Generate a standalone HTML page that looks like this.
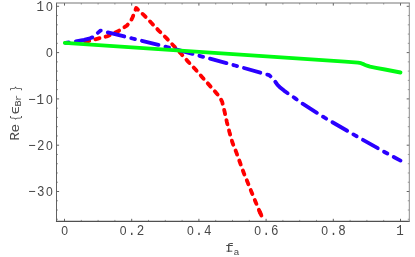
<!DOCTYPE html>
<html><head><meta charset="utf-8">
<style>
html,body{margin:0;padding:0;background:#fff;}
body{width:415px;height:257px;overflow:hidden;}
svg{display:block;will-change:transform;}
text{font-family:"Liberation Mono",monospace;font-size:14.4px;fill:#484848;}
.t text{font-size:12.5px;}
.t .z{font-family:"Liberation Sans",sans-serif;font-size:12.2px;}
.s{font-size:10.2px;}
</style></head><body>
<svg width="415" height="257" viewBox="0 0 415 257">
<rect width="415" height="257" fill="#fff"/>
<defs><clipPath id="c"><rect x="56.50" y="3.00" width="352.80" height="218.40"/></clipPath></defs>
<g clip-path="url(#c)" fill="none" stroke-linejoin="round" stroke-linecap="round" stroke-width="3.85">
<polyline stroke="#ff0000" stroke-dasharray="4.3 6.29" stroke-dashoffset="8.04" points="82.45,41.63 88.00,41.20 98.00,38.60 107.80,36.10 118.00,31.30 126.80,25.70 130.50,21.50 132.50,17.50 134.30,13.00 136.20,8.00 143.90,15.15 151.50,23.00 158.70,30.60 166.20,37.90 173.10,45.20 181.10,53.80 187.60,61.10 195.10,69.00 202.00,76.90 209.10,84.90 216.20,92.90 219.50,96.80 222.10,101.60 224.60,111.70 226.90,122.20 229.50,132.30 232.40,142.50 236.40,152.60 240.00,162.50 243.60,172.60 247.50,182.00 251.70,192.50 255.60,201.90 260.10,212.70 262.10,216.60"/>
<polyline stroke="#ff0000" points="259.6,211.5 261.4,215.5"/>
<polyline stroke="#2a00ff" stroke-dasharray="17 7.2 3.8 7.2" stroke-dashoffset="24.7" points="65.50,42.85 74.00,41.90 84.00,39.80 90.00,38.30 93.70,36.90 95.80,35.30 97.40,33.20 100.60,30.60 105.40,31.80 132.50,38.50 167.00,47.00 201.30,56.30 235.10,65.50 269.20,75.20 271.50,77.20 275.10,81.50 277.50,84.80 280.50,87.80 284.00,90.60 288.10,93.50 294.90,98.10 301.80,103.20 324.60,117.70 355.10,135.40 385.40,152.50 400.50,160.60"/>
<polyline stroke="#00fb12" points="64.80,42.90 345.00,61.60 358.00,62.60 361.00,63.20 364.00,64.40 367.00,65.70 370.00,66.70 376.00,67.90 385.00,69.50 400.50,72.50"/>
</g>
<path d="M64.50 221.40v-2.60M64.50 3.00v2.60M131.70 221.40v-2.60M131.70 3.00v2.60M198.90 221.40v-2.60M198.90 3.00v2.60M266.10 221.40v-2.60M266.10 3.00v2.60M333.30 221.40v-2.60M333.30 3.00v2.60M400.50 221.40v-2.60M400.50 3.00v2.60M56.50 6.30h2.60M409.30 6.30h-2.60M56.50 52.60h2.60M409.30 52.60h-2.60M56.50 98.90h2.60M409.30 98.90h-2.60M56.50 145.20h2.60M409.30 145.20h-2.60M56.50 191.50h2.60M409.30 191.50h-2.60" stroke="#3a3a3a" stroke-width="0.8" fill="none"/>
<path d="M81.30 221.40v-1.50M81.30 3.00v1.50M98.10 221.40v-1.50M98.10 3.00v1.50M114.90 221.40v-1.50M114.90 3.00v1.50M148.50 221.40v-1.50M148.50 3.00v1.50M165.30 221.40v-1.50M165.30 3.00v1.50M182.10 221.40v-1.50M182.10 3.00v1.50M215.70 221.40v-1.50M215.70 3.00v1.50M232.50 221.40v-1.50M232.50 3.00v1.50M249.30 221.40v-1.50M249.30 3.00v1.50M282.90 221.40v-1.50M282.90 3.00v1.50M299.70 221.40v-1.50M299.70 3.00v1.50M316.50 221.40v-1.50M316.50 3.00v1.50M350.10 221.40v-1.50M350.10 3.00v1.50M366.90 221.40v-1.50M366.90 3.00v1.50M383.70 221.40v-1.50M383.70 3.00v1.50M56.50 15.56h1.50M409.30 15.56h-1.50M56.50 24.82h1.50M409.30 24.82h-1.50M56.50 34.08h1.50M409.30 34.08h-1.50M56.50 43.34h1.50M409.30 43.34h-1.50M56.50 61.86h1.50M409.30 61.86h-1.50M56.50 71.12h1.50M409.30 71.12h-1.50M56.50 80.38h1.50M409.30 80.38h-1.50M56.50 89.64h1.50M409.30 89.64h-1.50M56.50 108.16h1.50M409.30 108.16h-1.50M56.50 117.42h1.50M409.30 117.42h-1.50M56.50 126.68h1.50M409.30 126.68h-1.50M56.50 135.94h1.50M409.30 135.94h-1.50M56.50 154.46h1.50M409.30 154.46h-1.50M56.50 163.72h1.50M409.30 163.72h-1.50M56.50 172.98h1.50M409.30 172.98h-1.50M56.50 182.24h1.50M409.30 182.24h-1.50M56.50 200.76h1.50M409.30 200.76h-1.50M56.50 210.02h1.50M409.30 210.02h-1.50M56.50 219.28h1.50M409.30 219.28h-1.50" stroke="#555" stroke-width="0.6" fill="none"/>
<g fill="none">
<line x1="56.50" y1="3.00" x2="56.50" y2="222.00" stroke="#585858" stroke-width="0.95"/>
<line x1="55.95" y1="221.40" x2="409.85" y2="221.40" stroke="#505050" stroke-width="1.15"/>
<line x1="55.95" y1="3.00" x2="409.85" y2="3.00" stroke="#777" stroke-width="1.2"/>
<line x1="409.30" y1="3.00" x2="409.30" y2="222.00" stroke="#8a8a8a" stroke-width="1"/>
</g>
<g class="t" transform="scale(1,1.117)">
<text y="9.94" x="40.16 49.30" text-anchor="middle">1<tspan class="z">0</tspan></text>
<text y="51.39" x="49.30" text-anchor="middle"><tspan class="z">0</tspan></text>
<text y="92.84" x="32.02 40.16 49.30" text-anchor="middle">−1<tspan class="z">0</tspan></text>
<text y="134.29" x="32.02 40.66 49.30" text-anchor="middle">−2<tspan class="z">0</tspan></text>
<text y="175.74" x="32.02 40.66 49.30" text-anchor="middle">−3<tspan class="z">0</tspan></text>
<text y="210.38" x="64.60" text-anchor="middle"><tspan class="z">0</tspan></text>
<text y="210.38" x="123.16 131.80 140.44" text-anchor="middle"><tspan class="z">0</tspan>.2</text>
<text y="210.38" x="190.36 199.00 207.64" text-anchor="middle"><tspan class="z">0</tspan>.4</text>
<text y="210.38" x="257.56 266.20 274.84" text-anchor="middle"><tspan class="z">0</tspan>.6</text>
<text y="210.38" x="324.76 333.40 342.04" text-anchor="middle"><tspan class="z">0</tspan>.8</text>
<text y="210.38" x="400.10" text-anchor="middle">1</text>
</g>
<g>
<text x="225.2" y="251.6" transform="translate(0,251.6) scale(1,0.9) translate(0,-251.6)">f</text>
<text class="s" x="233.5" y="254.6" style="font-size:9.9px">a</text>
<path d="M226.5 251.2h5.8" stroke="#484848" stroke-width="0.9" fill="none"/>
<text transform="translate(18.9,140.7) rotate(-90) scale(1,0.9)" x="0 8.1 20.14 26.3 34.2 39.65 49.8">Re<tspan textLength="5.18" lengthAdjust="spacingAndGlyphs">{</tspan>ϵ<tspan class="s" dy="2.6">Br</tspan><tspan dy="-2.6" textLength="5.18" lengthAdjust="spacingAndGlyphs">}</tspan></text>
</g>
</svg>
</body></html>
